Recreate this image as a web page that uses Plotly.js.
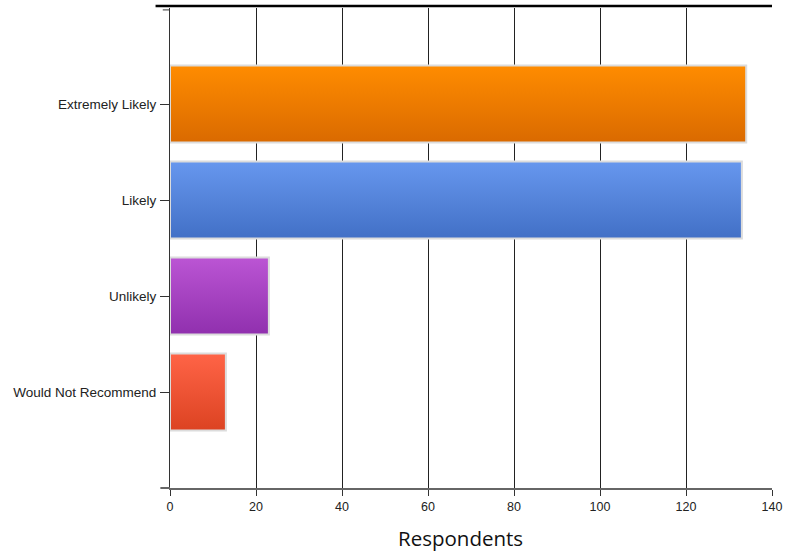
<!DOCTYPE html>
<html>
<head>
<meta charset="utf-8">
<script src="https://cdn.plot.ly/plotly-3.0.1.min.js"></script>
<style>html,body{margin:0;padding:0;background:#fff;}#chart{width:786px;height:552px;}</style>
</head>
<body>
<div id="chart"></div>
<script>
const categories = ["Extremely Likely", "Likely", "Unlikely", "Would Not Recommend"];
const respondents = [134, 133, 23, 13];
const barColors = ["#ec7b00", "#5585dd", "#a645c4", "#ee5535"];
const gradTop = ["#ff8c00", "#6797ee", "#bb55d4", "#ff6447"];
const gradBottom = ["#da6a00", "#4270c6", "#9030ae", "#dc4322"];
const xTicks = [0, 20, 40, 60, 80, 100, 120, 140];
const xTitle = "Respondents";

const traces = categories.map((c, i) => ({
  type: "bar",
  orientation: "h",
  x: [respondents[i]],
  y: [i],
  width: 0.8,
  marker: {color: barColors[i], line: {color: "#dcdcdc", width: 2}},
  hoverinfo: "x+y",
  showlegend: false
}));

const layout = {
  width: 786, height: 552,
  margin: {l: 170, r: 14, t: 8, b: 64},
  paper_bgcolor: "#fff", plot_bgcolor: "#fff",
  barmode: "overlay",
  font: {family: "Liberation Sans, Arial, sans-serif", color: "#222", size: 12},
  xaxis: {
    range: [0, 140], tickvals: xTicks, ticktext: xTicks.map(String),
    showgrid: true, gridcolor: "#222", gridwidth: 1, zeroline: false,
    showline: true, linecolor: "#666", linewidth: 2,
    ticks: "outside", ticklen: 6, tickcolor: "#333",
    tickfont: {size: 12.5, color: "#222"}
  },
  yaxis: {
    range: [4, -1], tickvals: [0, 1, 2, 3], ticktext: categories,
    showgrid: false, zeroline: false,
    showline: true, linecolor: "#333", linewidth: 1,
    ticks: "outside", ticklen: 9, tickcolor: "#333",
    ticklabelstandoff: 1,
    tickfont: {size: 13.5, color: "#222"}
  },
  annotations: [
    {text: xTitle, xref: "paper", yref: "paper", x: 0.482, y: 0, yshift: -50, xanchor: "center", yanchor: "middle",
     showarrow: false, font: {family: "Open Sans, Liberation Sans, sans-serif", size: 20.5, color: "#111"}}
  ],
  shapes: [
    {type: "line", xref: "paper", yref: "paper", x0: -0.024, x1: 1, y0: 1.004, y1: 1.004, line: {color: "#000", width: 2.5}},
    {type: "line", xref: "paper", yref: "paper", x0: -0.016, x1: 0, y0: 0, y1: 0, line: {color: "#666", width: 2}},
    {type: "line", xref: "paper", yref: "paper", x0: -0.012, x1: 0, y0: 0.996, y1: 0.996, line: {color: "#333", width: 1}}
  ]
};

Plotly.newPlot("chart", traces, layout, {displayModeBar: false, staticPlot: true}).then(gd => {
  const svgNS = "http://www.w3.org/2000/svg";
  const svg = gd.querySelector("svg.main-svg");
  let defs = svg.querySelector("defs");
  if (!defs) { defs = document.createElementNS(svgNS, "defs"); svg.insertBefore(defs, svg.firstChild); }
  const traceGroups = gd.querySelectorAll(".barlayer .trace");
  traceGroups.forEach((g, i) => {
    const id = "barGrad" + i;
    const lg = document.createElementNS(svgNS, "linearGradient");
    lg.setAttribute("id", id);
    lg.setAttribute("x1", "0"); lg.setAttribute("y1", "0");
    lg.setAttribute("x2", "0"); lg.setAttribute("y2", "1");
    const s1 = document.createElementNS(svgNS, "stop");
    s1.setAttribute("offset", "0"); s1.setAttribute("stop-color", gradTop[i]);
    const s2 = document.createElementNS(svgNS, "stop");
    s2.setAttribute("offset", "1"); s2.setAttribute("stop-color", gradBottom[i]);
    lg.appendChild(s1); lg.appendChild(s2);
    defs.appendChild(lg);
    g.querySelectorAll(".point path").forEach(p => { p.style.fill = "url(#" + id + ")"; });
  });
});
</script>
</body>
</html>
